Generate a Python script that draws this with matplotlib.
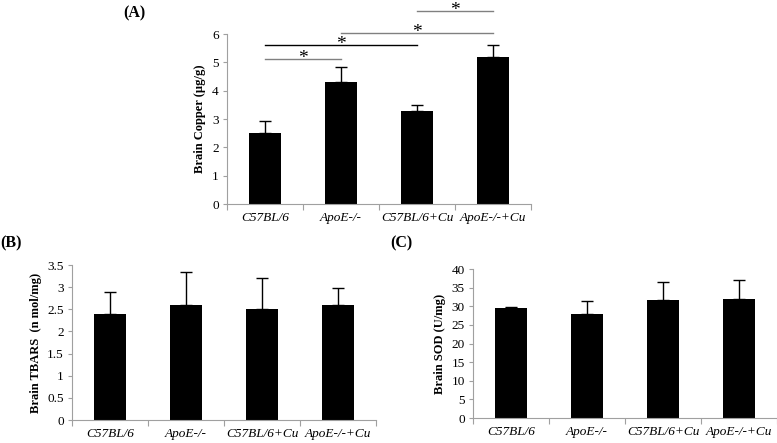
import matplotlib
matplotlib.use('Agg')
import matplotlib.pyplot as plt
import numpy as np

plt.rcParams['font.family'] = ['Liberation Serif', 'DejaVu Serif']

groups = ['C57BL/6', 'ApoE-/-', 'C57BL/6+Cu', 'ApoE-/-+Cu']

copper = [2.5, 4.3, 3.3, 5.2]
copper_err = [0.42, 0.53, 0.2, 0.4]
tbars = [2.4, 2.6, 2.5, 2.6]
tbars_err = [0.5, 0.75, 0.7, 0.37]
sod = [29.5, 28.0, 31.8, 32.0]
sod_err = [0.4, 3.5, 4.7, 5.0]

# significance bars for panel A: (from, to, height, colour)
sig_pairs = [(0, 1, 5.12, '#808080'), (0, 2, 5.62, 'black'),
             (1, 3, 6.04, '#808080'), (2, 3, 6.82, '#808080')]

fig = plt.figure(figsize=(7.77, 4.43), dpi=100)

def panel(rect, vals, errs, ymax, step, ylabel):
    ax = fig.add_axes(rect)
    x = np.arange(len(groups))
    ax.bar(x, vals, width=0.41, color='black', zorder=2)
    ax.errorbar(x, vals, yerr=[np.zeros(len(errs)), errs], fmt='none',
                ecolor='black', elinewidth=1, capsize=4, capthick=1, zorder=3)
    ax.set_xlim(-0.5, len(groups) - 0.5)
    ax.set_ylim(0, ymax)
    yt = np.arange(0, ymax + step / 2, step)
    ax.set_yticks(yt)
    ax.set_yticklabels(['%g' % v for v in yt], fontsize=9.5)
    ax.set_xticks(np.arange(-0.5, len(groups), 1.0))
    ax.set_xticklabels([])
    ax.set_xticks(x, minor=True)
    ax.set_xticklabels(groups, minor=True, fontsize=9.5, style='italic')
    ax.tick_params(axis='x', which='major', length=4, color='#a0a0a0', direction='out')
    ax.tick_params(axis='x', which='minor', length=0, pad=6)
    ax.tick_params(axis='y', length=3, color='#a0a0a0', pad=3)
    for s in ['top', 'right']:
        ax.spines[s].set_visible(False)
    for s in ['left', 'bottom']:
        ax.spines[s].set_color('#a0a0a0')
    ax.set_ylabel(ylabel, fontsize=9, fontweight='bold')
    return ax

axA = panel([0.2921, 0.5395, 0.3913, 0.3837], copper, copper_err, 6, 1,
            'Brain Copper (µg/g)')
axB = panel([0.0927, 0.0519, 0.3913, 0.3499], tbars, tbars_err, 3.5, 0.5,
            'Brain TBARS  (n mol/mg)')
axC = panel([0.6088, 0.0564, 0.3913, 0.3363], sod, sod_err, 40, 5,
            'Brain SOD (U/mg)')

for a, b, h, c in sig_pairs:
    axA.plot([a, b], [h, h], color=c, lw=1, clip_on=False)
    axA.text((a + b) / 2, h - 0.14, '*', ha='center', va='baseline',
             fontsize=14, clip_on=False)

fig.text(0.158, 0.97, '(A)', fontsize=11.5, fontweight='bold', ha='left', va='center')
fig.text(0.0, 0.45, '(B)', fontsize=11.5, fontweight='bold', ha='left', va='center')
fig.text(0.502, 0.45, '(C)', fontsize=11.5, fontweight='bold', ha='left', va='center')

fig.savefig('out.png', dpi=100)
